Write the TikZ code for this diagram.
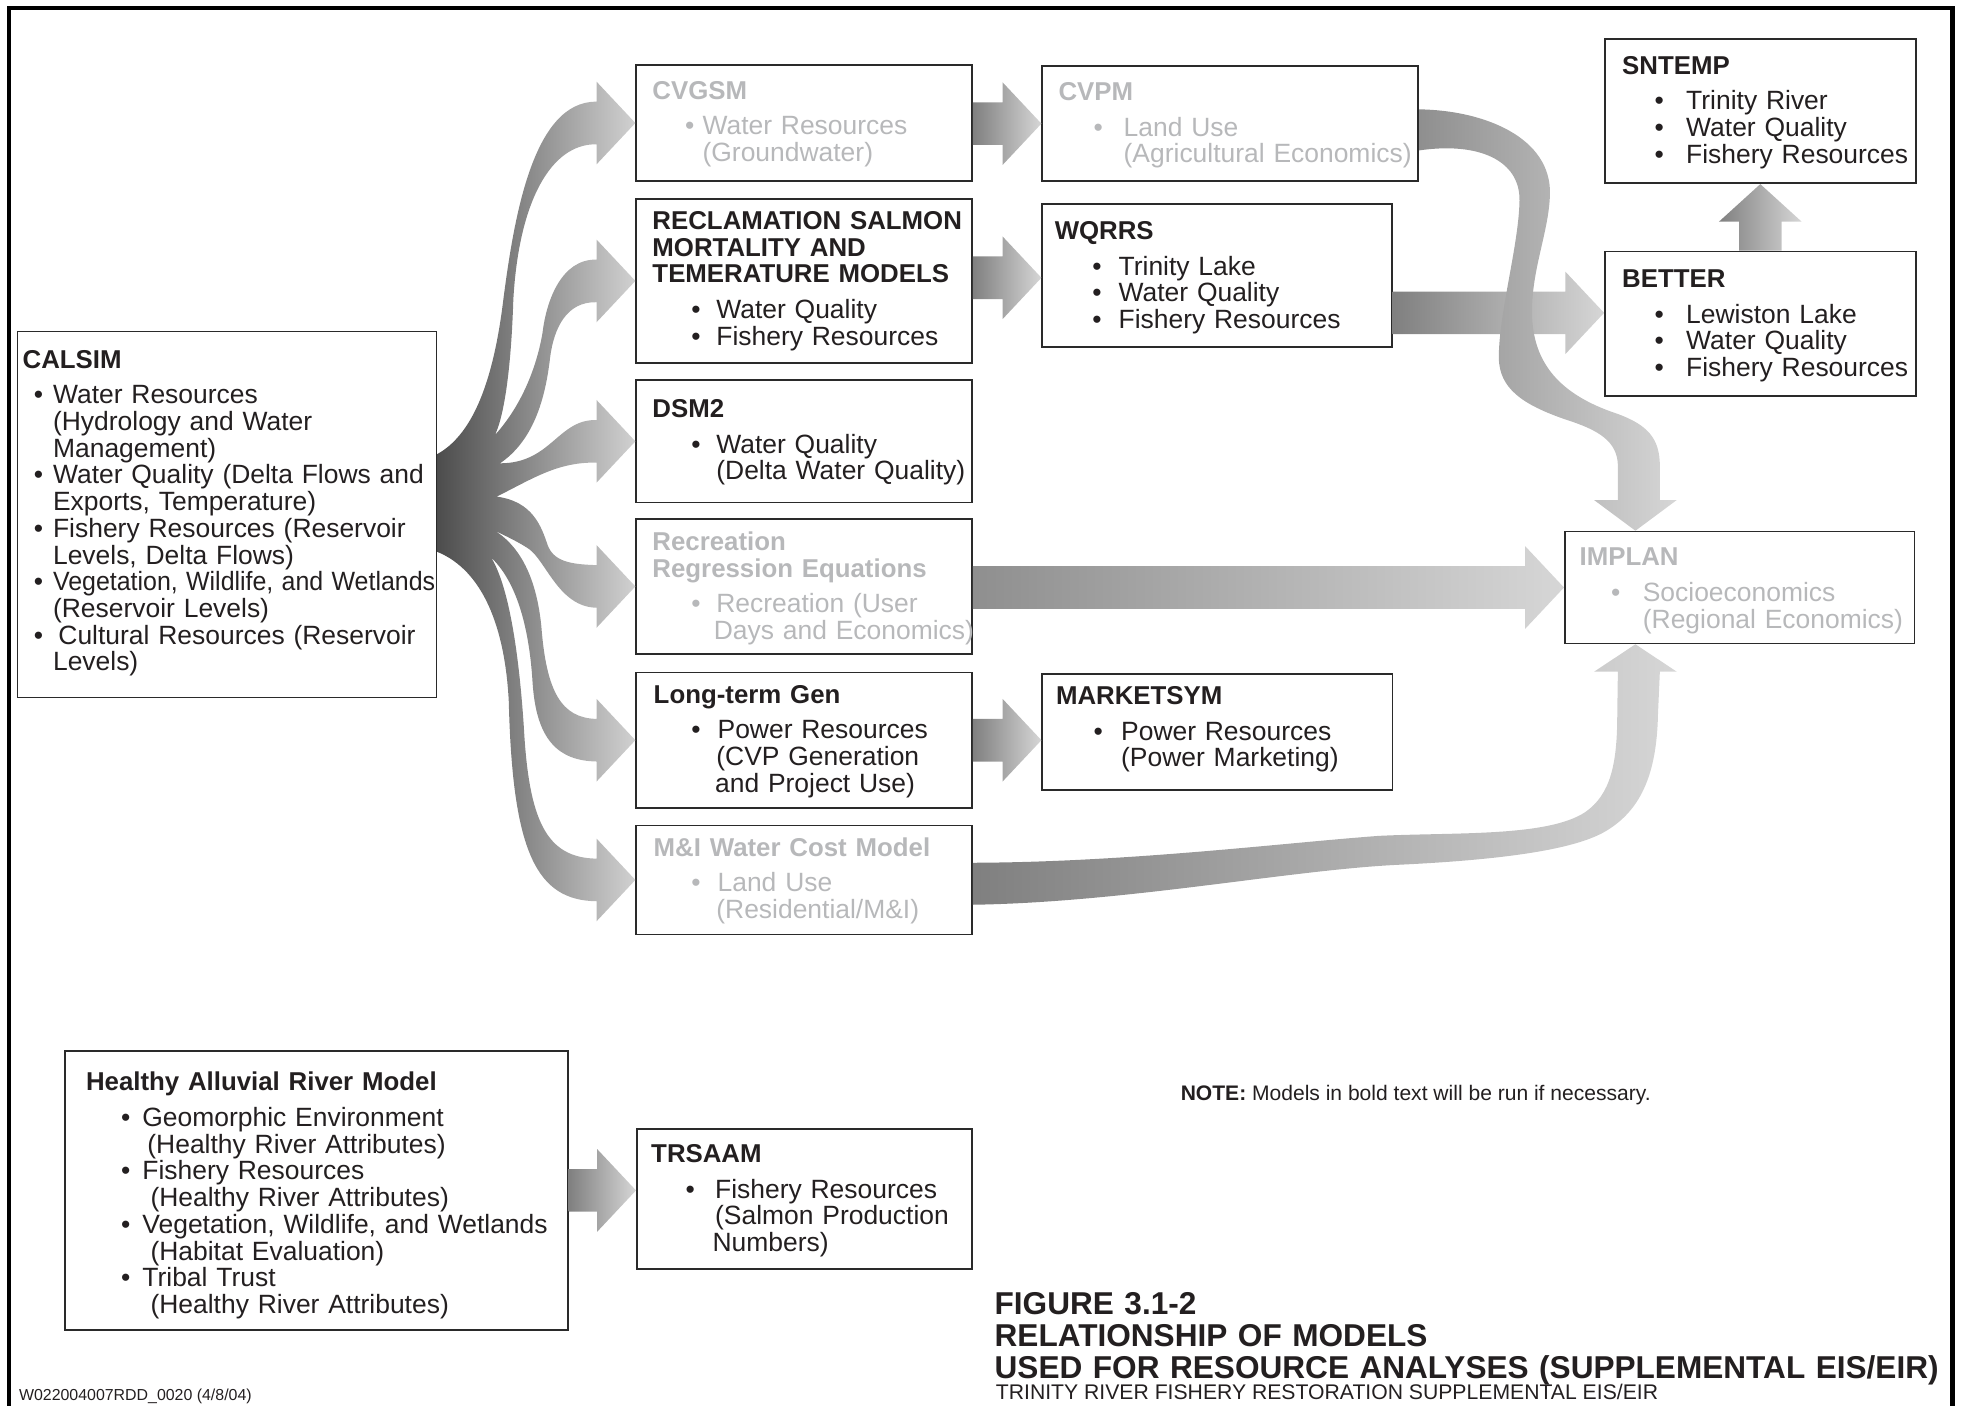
\documentclass[tikz,border=0pt]{standalone}
\usepackage{fontspec}
\setmainfont{Liberation Sans}
\usepackage{graphicx}
\usetikzlibrary{calc}

\definecolor{inktext}{HTML}{231F20}
\definecolor{boxline}{HTML}{2A2A2A}
\definecolor{fadedtext}{HTML}{B7B8BA}
\definecolor{fandark}{gray}{0.30}
\definecolor{fanlight}{gray}{0.82}
\definecolor{arrowdark}{gray}{0.50}
\definecolor{arrowmid}{gray}{0.56}
\definecolor{arrowlight}{gray}{0.84}

\newcommand{\bodyfont}{\fontsize{21.1}{21.3}\selectfont}
\newcommand{\notefont}{\fontsize{16.8}{18}\selectfont}
\newcommand{\titlefont}{\fontsize{25.2}{25.3}\selectfont\bfseries}
\newcommand{\subfont}{\fontsize{16.9}{18}\selectfont}
\newcommand{\codefont}{\fontsize{12.7}{14}\selectfont}

% text offsets inside a model box
\newlength{\ttlx}\newlength{\bulx}\newlength{\txtx}
\newcommand{\ttl}[1]{\mbox{\hspace*{\ttlx}\fontsize{20.6}{21.3}\selectfont\textbf{#1}}}
\newcommand{\itm}[2][\txtx]{\mbox{\hspace*{\bulx}\makebox[\dimexpr#1-\bulx\relax][l]{•}#2}}
\newcommand{\cnt}[2][\txtx]{\mbox{\hspace*{#1}#2}}

% straight fat arrow, from the x of #2 to the tip #3
\newcommand{\fatarrow}[3][]{%
  \shade[fatarrow,#1] let \p1=(#2), \p2=(#3) in
    (\x1,\y2+17pt) -- (\x2-31pt,\y2+17pt) -- (\x2-31pt,\y2+33pt) -- (\p2)
    -- (\x2-31pt,\y2-33pt) -- (\x2-31pt,\y2-17pt) -- (\x1,\y2-17pt) -- cycle;}

\tikzset{
  model/.style={draw=boxline, line width=1.3pt, anchor=north west, inner sep=0pt,
    align=left, text=inktext, font=\bodyfont},
  faded/.style={text=fadedtext},
  textpos/.style n args={3}{execute at begin node={%
    \setlength{\ttlx}{#1pt}\setlength{\bulx}{#2pt}\setlength{\txtx}{#3pt}}},
  headto/.style={insert path={-- ++(0,-16) -- (#1.west) -- ($(#1.west)+(-31,33)$) -- ++(0,-16)}},
  fan/.style={left color=fandark, right color=fanlight},
  fatarrow/.style={left color=arrowdark, right color=arrowlight},
  curvearrow/.style={left color=arrowmid, right color=arrowlight}
}

\begin{document}
\begin{tikzpicture}[x=1pt, y=-1pt]
  \useasboundingbox (0,0) rectangle (1568,1121.9);
  \draw[line width=3.4pt] (7.3,1135) -- (7.3,6.6) -- (1558,6.6) -- (1558,1135);

  % models
  \node[model, text width=334.2pt, text height=29.3pt, text depth=262.7pt, textpos={4}{13}{28.3}]
    (calsim) at (13.4,263.8) {\ttl{CALSIM}\\[7.2pt]
      \itm{Water Resources}\\\cnt{(Hydrology and Water}\\\cnt{Management)}\\
      \itm{Water Quality (Delta Flows and}\\\cnt{Exports, Temperature)}\\
      \itm{Fishery Resources (Reservoir}\\\cnt{Levels, Delta Flows)}\\
      \itm{\scalebox{0.943}[1]{Vegetation, Wildlife, and Wetlands}}\\\cnt{(Reservoir Levels)}\\
      \itm[32.6pt]{Cultural Resources (Reservoir}\\\cnt{Levels)}};
  \node[model, faded, text width=268pt, text height=27.5pt, text depth=65.5pt, textpos={13}{39}{53}]
    (cvgsm) at (507,51) {\ttl{CVGSM}\\[7.2pt]\itm{Water Resources}\\\cnt{(Groundwater)}};
  \node[model, text width=268pt, text height=24.5pt, text depth=106.5pt, textpos={13}{44}{64}]
    (reclam) at (507,158) {\ttl{RECLAMATION SALMON}\\\ttl{MORTALITY AND}\\\ttl{TEMERATURE MODELS}\\[7.2pt]
      \itm{Water Quality}\\\itm{Fishery Resources}};
  \node[model, text width=268pt, text height=29.8pt, text depth=67.8pt, textpos={13}{44}{64}]
    (dsm2) at (507,302.7) {\ttl{DSM2}\\[7.2pt]\itm{Water Quality}\\\cnt{(Delta Water Quality)}};
  \node[model, faded, text width=268pt, text height=25pt, text depth=82.4pt, textpos={13}{44}{64}]
    (recre) at (507,413.6) {\ttl{Recreation}\\\ttl{Regression Equations}\\[7.2pt]
      \itm{Recreation (User}\\\cnt[62pt]{Days and Economics)}};
  \node[model, text width=268pt, text height=24.5pt, text depth=83.5pt, textpos={14}{44}{65}]
    (longterm) at (507,536) {\ttl{Long-term Gen}\\[7.2pt]\itm{Power Resources}\\
      \cnt[64pt]{(CVP Generation}\\\cnt[63pt]{and Project Use)}};
  \node[model, faded, text width=268pt, text height=24.5pt, text depth=62.5pt, textpos={14}{44}{65}]
    (mandi) at (507,658) {\ttl{M\&I Water Cost Model}\\[7.2pt]\itm{Land Use}\\\cnt[64pt]{(Residential/M\&I)}};
  \node[model, faded, text width=300pt, text height=27.5pt, text depth=64.5pt, textpos={13}{41}{65}]
    (cvpm) at (831,52) {\ttl{CVPM}\\[7.2pt]\itm{Land Use}\\\cnt{(Agricultural Economics)}};
  \node[model, text width=279pt, text height=28.5pt, text depth=85.5pt, textpos={10}{40}{61}]
    (wqrrs) at (831,162) {\ttl{WQRRS}\\[7.2pt]\itm{Trinity Lake}\\\itm{Water Quality}\\\itm{Fishery Resources}};
  \node[model, text width=279.5pt, text height=24.5pt, text depth=68.3pt, textpos={11}{41}{63}]
    (marketsym) at (831,537) {\ttl{MARKETSYM}\\[7.2pt]\itm{Power Resources}\\\cnt{(Power Marketing)}};
  \node[model, text width=248pt, text height=27.9pt, text depth=87.1pt, textpos={13.8}{39.6}{64.9}]
    (sntemp) at (1280,30.6) {\ttl{SNTEMP}\\[7.2pt]\itm{Trinity River}\\\itm{Water Quality}\\\itm{Fishery Resources}};
  \node[model, text width=248pt, text height=28.8pt, text depth=86.4pt, textpos={13.8}{39.6}{64.9}]
    (better) at (1280,200) {\ttl{BETTER}\\[7.2pt]\itm{Lewiston Lake}\\\itm{Water Quality}\\\itm{Fishery Resources}};
  \node[model, faded, text width=279pt, text height=27.3pt, text depth=62pt, textpos={11.8}{37}{62.3}]
    (implan) at (1248,423.5) {\ttl{IMPLAN}\\[7.2pt]\itm{Socioeconomics}\\\cnt{(Regional Economics)}};
  \node[model, text width=401.5pt, text height=31.8pt, text depth=190.7pt, textpos={17}{45}{62}]
    (healthy) at (51,838) {\ttl{Healthy Alluvial River Model}\\[7.2pt]
      \itm{Geomorphic Environment}\\\cnt[66pt]{(Healthy River Attributes)}\\
      \itm{Fishery Resources}\\\cnt[68.5pt]{(Healthy River Attributes)}\\
      \itm{Vegetation, Wildlife, and Wetlands}\\\cnt[68.5pt]{(Habitat Evaluation)}\\
      \itm{Tribal Trust}\\\cnt[68.5pt]{(Healthy River Attributes)}};
  \node[model, text width=267.5pt, text height=26.6pt, text depth=85pt, textpos={11.5}{39}{62.5}]
    (trsaam) at (507.5,900.4) {\ttl{TRSAAM}\\[7.2pt]\itm{Fishery Resources}\\\cnt{(Salmon Production}\\
      \cnt[60.5pt]{Numbers)}};

  % notes and titles
  \node[anchor=base west, inner sep=0pt, text=inktext, font=\notefont] (note) at (942,877.8)
    {\textbf{NOTE:} Models in bold text will be run if necessary.};
  \node[anchor=base west, inner sep=0pt, text width=800pt, align=left, text=inktext, font=\titlefont]
    (figtitle) at (793.5,1049) {FIGURE 3.1-2\\RELATIONSHIP OF MODELS\\USED FOR RESOURCE ANALYSES (SUPPLEMENTAL EIS/EIR)};
  \node[anchor=base west, inner sep=0pt, text=inktext, font=\subfont] (subtitle) at (794.5,1116.5)
    {TRINITY RIVER FISHERY RESTORATION SUPPLEMENTAL EIS/EIR};
  \node[anchor=base west, inner sep=0pt, text=inktext, font=\codefont] (drawno) at (15,1117.7)
    {W022004007RDD\_0020 (4/8/04)};

  % fan of arrows out of CALSIM
  \shade[fan] ($(calsim.east)+(0,-48.1)$)
    .. controls (375,348) and (393,310) .. (401.6,239.4)
    .. controls (410,175) and (425,80.5) .. ($(cvgsm.west)+(-31,-17)$) [headto=cvgsm]
    .. controls (440,114.5) and (414,160) .. (409.6,239.4)
    .. controls (408,290) and (403,330) .. (395,347.1)
    .. controls (415,325) and (428,295) .. (433,265)
    .. controls (436,240) and (448,206.5) .. ($(reclam.west)+(-31,-17)$) [headto=reclam]
    .. controls (452,240.5) and (442,262) .. (439,285)
    .. controls (435,320) and (425,352) .. (399,369.7)
    .. controls (440,369.7) and (445,334.5) .. ($(dsm2.west)+(-31,-17)$) [headto=dsm2]
    .. controls (445,368.5) and (425,382) .. (396.3,396.3)
    .. controls (425,400) and (432,420) .. (437,435)
    .. controls (442,448) and (455,450.3) .. ($(recre.west)+(-31,-17)$) [headto=recre]
    .. controls (446,484.3) and (436,448) .. (422,438)
    .. controls (410,430) and (395,424) .. (384.4,418.1)
    .. controls (414,430) and (428,460) .. (432,500)
    .. controls (436,552) and (448,573) .. ($(longterm.west)+(-31,-17)$) [headto=longterm]
    .. controls (445,607) and (428,590) .. (425,545)
    .. controls (422,495) and (410,462) .. (392,445)
    .. controls (406,468) and (414,520) .. (418,580)
    .. controls (422,655) and (436,684.5) .. ($(mandi.west)+(-31,-17)$) [headto=mandi]
    .. controls (428,718.5) and (409,680) .. (406,560)
    .. controls (403,500) and (385,455) .. ($(calsim.east)+(0,29.9)$) -- cycle;

  % straight arrows
  \fatarrow{cvgsm.east}{cvpm.west}
  \fatarrow{reclam.east}{$(wqrrs.west)+(0,2)$}
  \fatarrow{longterm.east}{marketsym.west |- longterm.east}
  \fatarrow[left color=arrowmid]{recre.east}{implan.west}
  \fatarrow{wqrrs.east}{$(better.west)+(0,-8.6)$}
  \fatarrow{healthy.east}{trsaam.west |- healthy.east}
  \shade[fatarrow] let \p1=(better.north), \p2=(sntemp.south) in
    (\x2-17pt,\y1) -- (\x2-17pt,\y2-30pt) -- (\x2-33pt,\y2-30pt) -- (\p2)
    -- (\x2+33pt,\y2-30pt) -- (\x2+17pt,\y2-30pt) -- (\x2+17pt,\y1) -- cycle;

  % curved arrows into IMPLAN
  \coordinate (implantop) at ($(implan.north west)+(57,0)$);
  \coordinate (implanbot) at ($(implan.south west)+(57,0)$);
  \shade[curvearrow] ($(cvpm.east)+(0,-11.4)$)
    .. controls (1185,88) and (1238,110) .. (1236.8,155)
    .. controls (1236,185) and (1222,215) .. (1222.5,250)
    .. controls (1223,290) and (1245,315) .. (1290,330)
    .. controls (1315,339) and (1324.5,350) .. (1324.5,372)
    -- (1324.5,399) -- (1338,399) -- (implantop) -- (1272,399) -- (1291,399) -- (1291,372)
    .. controls (1291,352) and (1275,343) .. (1250,335)
    .. controls (1215,323) and (1196,310) .. (1196,285)
    .. controls (1196,250) and (1212,195) .. (1212.5,160)
    .. controls (1213,128) and (1180,113) .. ($(cvpm.east)+(0,21.4)$) -- cycle;
  \shade[curvearrow, left color=arrowdark] ($(mandi.east)+(0,-13.7)$)
    .. controls (900,688) and (1020,673) .. (1100,667)
    .. controls (1160,664) and (1235,668) .. (1265,648)
    .. controls (1285,634) and (1290.5,610) .. (1290.5,570)
    -- (1291,536) -- (1272,536) -- (implanbot) -- (1338,536) -- (1324.5,536) -- (1323,570)
    .. controls (1322,620) and (1308,648) .. (1280,664)
    .. controls (1255,678) and (1200,686) .. (1117,690)
    .. controls (1030,694) and (900,720) .. ($(mandi.east)+(0,19.8)$) -- cycle;
\end{tikzpicture}
\end{document}
